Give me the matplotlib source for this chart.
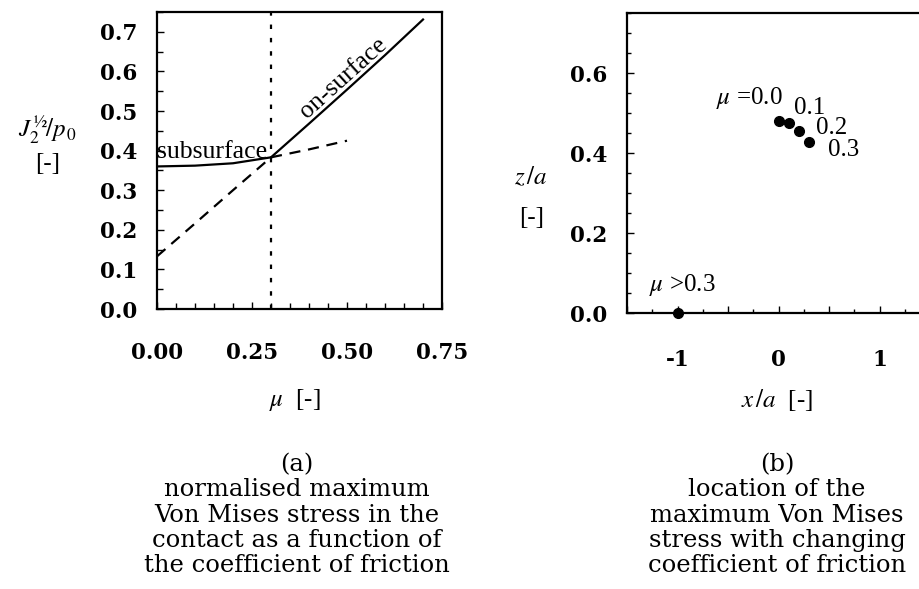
import matplotlib
matplotlib.use('Agg')
import matplotlib.pyplot as plt
from matplotlib.font_manager import FontProperties
from matplotlib.ticker import MultipleLocator, FixedLocator, FuncFormatter

# (a) normalised max Von Mises stress vs friction coefficient
mu_sub = [0.0, 0.1, 0.2, 0.3, 0.4, 0.5]
j2_sub = [0.360, 0.362, 0.368, 0.383, 0.403, 0.425]
mu_surf = [0.0, 0.1, 0.2, 0.3, 0.4, 0.5, 0.6, 0.7]
j2_surf = [0.133, 0.216, 0.300, 0.383, 0.468, 0.554, 0.641, 0.731]
mu_switch = 0.3

# (b) location of the maximum
x_loc = [0.0, 0.1, 0.2, 0.3]
z_loc = [0.481, 0.474, 0.456, 0.428]
loc_labels = ['$\\mu$ =0.0', '0.1', '0.2', '0.3']
x_surf, z_surf = -1.0, 0.0

W, H = 919, 589
serif = 'Liberation Serif'
tickfont = FontProperties(family='DejaVu Serif', weight='bold', size=15.5)

fig = plt.figure(figsize=(W/100, H/100), dpi=100)

def box(l, t, r, b):
    return [l/W, 1-b/H, (r-l)/W, (b-t)/H]

def ftext(x, y, s, **kw):
    fig.text(x/W, 1-y/H, s, **kw)

def style(ax):
    for sp in ax.spines.values():
        sp.set_linewidth(1.6)
    ax.tick_params(which='both', direction='in', width=1.0, color='black')
    ax.tick_params(which='major', length=5)
    ax.tick_params(which='minor', length=4)
    for lab in ax.get_xticklabels() + ax.get_yticklabels():
        lab.set_fontproperties(tickfont)

# ---- panel (a)
ax1 = fig.add_axes(box(157, 12, 442, 309))
i = mu_sub.index(mu_switch)
ax1.plot(mu_sub[:i+1], j2_sub[:i+1], color='black', lw=1.6)
ax1.plot(mu_sub[i:], j2_sub[i:], color='black', lw=1.6, ls=(0, (5, 3.5)))
k = mu_surf.index(mu_switch)
ax1.plot(mu_surf[:k+1], j2_surf[:k+1], color='black', lw=1.6, ls=(0, (5, 3.5)))
ax1.plot(mu_surf[k:], j2_surf[k:], color='black', lw=1.6)
ax1.axvline(mu_switch, color='black', lw=1.6, ls=(0, (2, 4)))
ax1.set_xlim(0, 0.75)
ax1.set_ylim(0, 0.75)
ax1.xaxis.set_major_locator(MultipleLocator(0.25))
ax1.xaxis.set_minor_locator(MultipleLocator(0.05))
ax1.yaxis.set_major_locator(FixedLocator([0, 0.1, 0.2, 0.3, 0.4, 0.5, 0.6, 0.7]))
ax1.yaxis.set_minor_locator(MultipleLocator(0.05))
ax1.xaxis.set_major_formatter(FuncFormatter(lambda v, p: f'{v:.2f}'))
ax1.yaxis.set_major_formatter(FuncFormatter(lambda v, p: f'{v:.1f}'))
ax1.tick_params(axis='x', pad=24)
ax1.tick_params(axis='y', pad=14)
style(ax1)
ax1.text(0.0, 0.397, 'subsurface', family=serif, size=18.5, ha='left', va='center')
ax1.text(0.49, 0.583, 'on-surface', family=serif, size=18.5, ha='center', va='center',
         rotation=42)

ftext(48, 130, '$J_2^{\\,\\mathrm{½}}\\!/p_{\\,0}$', family=serif, size=18,
      ha='center', va='center', math_fontfamily='stix')
ftext(48, 164, '[-]', family=serif, size=18, ha='center', va='center')
ftext(295, 400, '$\\mu$  [-]', family=serif, size=18, ha='center', va='center',
      math_fontfamily='stix')
ftext(297, 515, '(a)\nnormalised maximum\nVon Mises stress in the\n'
      'contact as a function of\nthe coefficient of friction',
      family='DejaVu Serif', size=17.5, ha='center', va='center', linespacing=1.13)

# ---- panel (b)
ax2 = fig.add_axes(box(627, 13, 930, 313))
ax2.plot(x_loc, z_loc, 'o', color='black', ms=7)
ax2.plot([x_surf], [z_surf], 'o', color='black', ms=7, clip_on=False)
ax2.set_xlim(-1.5, 1.5)
ax2.set_ylim(0, 0.75)
ax2.xaxis.set_major_locator(MultipleLocator(0.5))
ax2.xaxis.set_minor_locator(MultipleLocator(0.25))
ax2.yaxis.set_major_locator(MultipleLocator(0.2))
ax2.yaxis.set_minor_locator(MultipleLocator(0.05))
ax2.xaxis.set_major_formatter(FuncFormatter(lambda v, p: f'{v:.0f}' if abs(v - round(v)) < 1e-6 else ''))
ax2.yaxis.set_major_formatter(FuncFormatter(lambda v, p: f'{v:.1f}'))
ax2.tick_params(axis='x', pad=26)
ax2.tick_params(axis='y', pad=14)
style(ax2)
ax2.tick_params(which='minor', length=3)
ax2.spines['right'].set_visible(False)

# label anchors for the four subsurface points, in data units
lab_x = [0.04, 0.15, 0.376, 0.495]
lab_z = [0.5375, 0.513, 0.4625, 0.4075]
lab_ha = ['right', 'left', 'left', 'left']
for xt, zt, lab, ha in zip(lab_x, lab_z, loc_labels, lab_ha):
    ax2.text(xt, zt, lab, family=serif, size=18, ha=ha, va='center',
             math_fontfamily='stix')
ax2.text(x_surf - 0.28, 0.07, '$\\mu$ >0.3', family=serif, size=18, ha='left',
         va='center', math_fontfamily='stix')

ftext(531, 178, '$z\\,/a$', family=serif, size=18, ha='center', va='center',
      math_fontfamily='stix')
ftext(532, 218, '[-]', family=serif, size=18, ha='center', va='center')
ftext(777, 400, '$x\\,/a$  [-]', family=serif, size=18, ha='center', va='center',
      math_fontfamily='stix')
ftext(777, 515, '(b)\nlocation of the\nmaximum Von Mises\n'
      'stress with changing\ncoefficient of friction',
      family='DejaVu Serif', size=17.5, ha='center', va='center', linespacing=1.13)

fig.savefig('out.png', dpi=100)
